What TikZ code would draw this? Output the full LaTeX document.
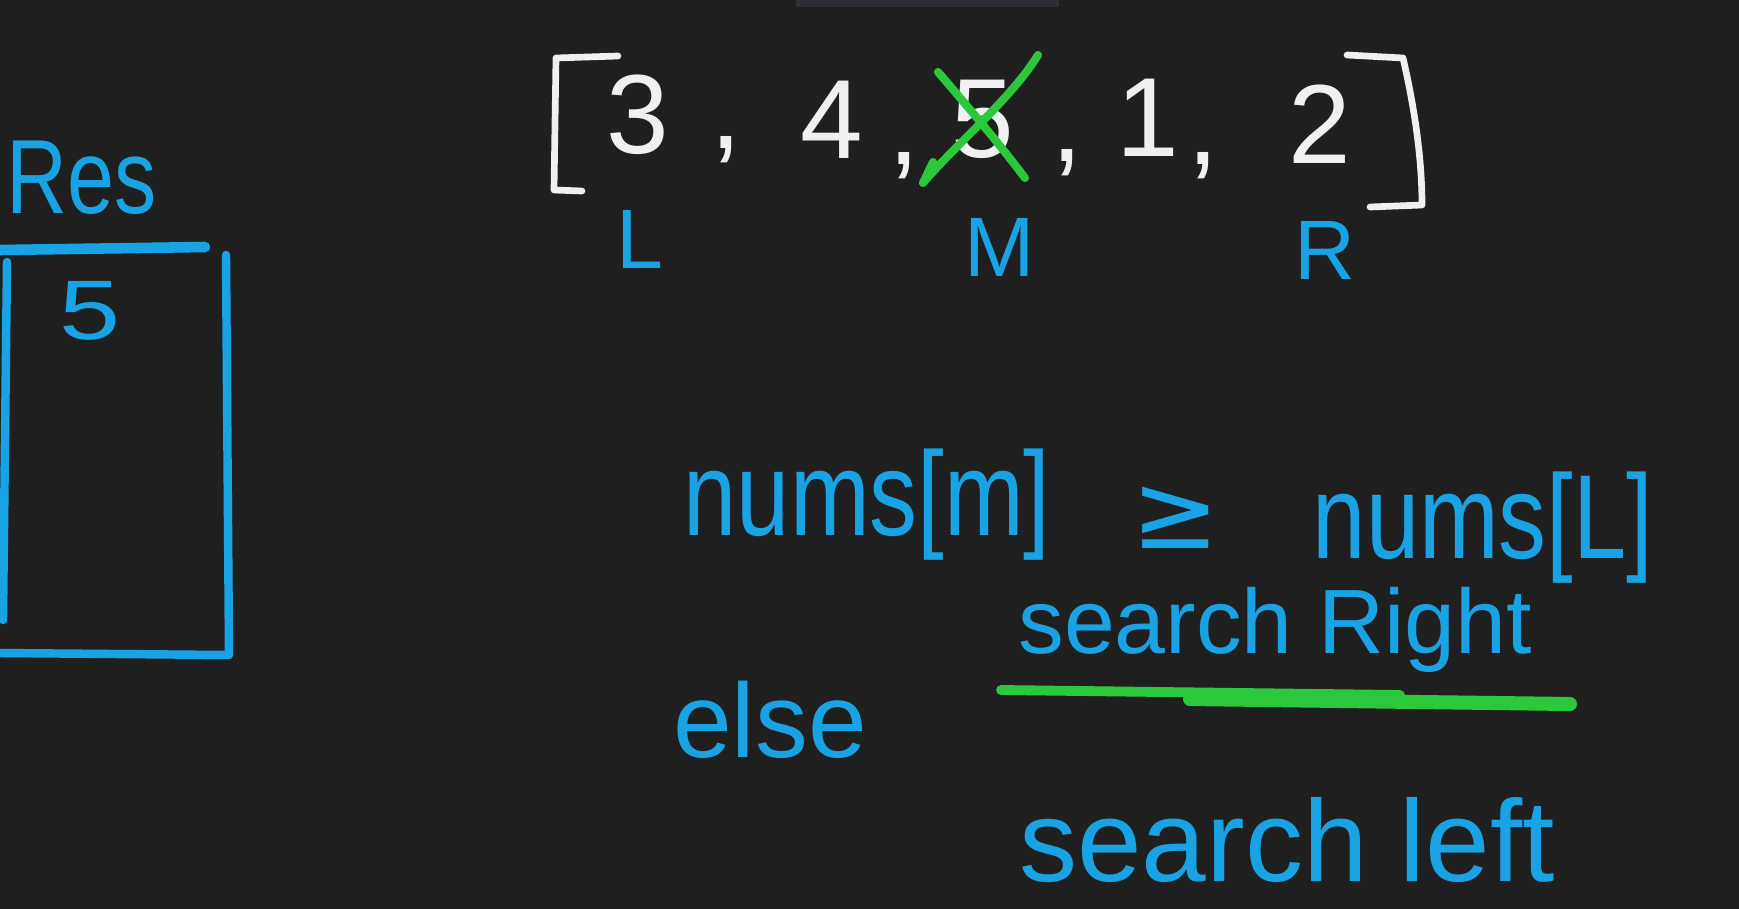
\documentclass[tikz,border=0pt]{standalone}
\usepackage{fontspec}
\setmainfont{Liberation Sans}
\newfontfamily\symfont{DejaVu Sans}
\definecolor{bg}{RGB}{31,31,31}
\definecolor{topbar}{RGB}{44,47,52}
\definecolor{hblue}{RGB}{26,163,228}
\definecolor{hgreen}{RGB}{44,200,60}
\definecolor{hwhite}{RGB}{240,240,240}
\begin{document}
\begin{tikzpicture}[x=0.01cm,y=-0.01cm,
  wtxt/.style={text=hwhite, inner sep=0pt, font=\fontsize{32}{38}\selectfont},
  btxt/.style={text=hblue, inner sep=0pt},
  wstroke/.style={draw=hwhite, line width=1.9pt, line cap=round, line join=round},
  bstroke/.style={draw=hblue, line width=2.4pt, line cap=round, line join=round},
  gstroke/.style={draw=hgreen, line width=2.3pt, line cap=round, line join=round}]
\fill[bg] (0,0) rectangle (1739,909);
\useasboundingbox (0,0) rectangle (1739,909);
\fill[topbar] (796,0) rectangle (1059,7);

% array brackets
\draw[wstroke] (618,56) -- (556,58) -- (554,190) -- (582,191);
\draw[wstroke] (1347,55) -- (1403,58) .. controls (1415,110) and (1422,160) .. (1422,205) -- (1370,207);

% array values
\node[wtxt] (v3) at (638,115) {3};
\node[wtxt] (c1) at (726,150) {,};
\node[wtxt] (v4) at (832,120) {4};
\node[wtxt] (c2) at (904,166) {,};
\node[wtxt] (v5) at (983,119) {5};
\node[wtxt] (c3) at (1067,163) {,};
\node[wtxt] (v1) at (1148,118) {1};
\node[wtxt] (c4) at (1203,166) {,};
\node[wtxt] (v2) at (1320,124) {2};

% crossing out
\draw[gstroke] (938,72) .. controls (975,115) and (1000,145) .. (1025,178);
\draw[gstroke] (1038,55) .. controls (1010,100) and (960,140) .. (923,183) -- (933,162);

% pointers
\node[btxt, font=\fontsize{24}{28}\selectfont] (pL) at (640,239) {L};
\node[btxt, font=\fontsize{24}{28}\selectfont] (pM) at (1000,247) {M};
\node[btxt, font=\fontsize{24}{28}\selectfont] (pR) at (1325,250) {R};

% result box
\node[btxt, font=\fontsize{30}{36}\selectfont] (res) at (82,178) {\scalebox{0.8}[1]{Res}};
\draw[draw=hblue, line width=3pt, line cap=round] (0,250) -- (205,247);
\draw[bstroke] (226,255) -- (229,655) -- (0,653);
\draw[bstroke] (7,262) -- (3,620);
\node[btxt, font=\fontsize{24}{28}\selectfont] (r5) at (90,311) {\scalebox{1.3}[1]{5}};

% condition
\node[btxt, font=\fontsize{34}{40}\selectfont] (lhs) at (867,505) {\scalebox{0.8}[1]{nums[m]}};
\node[btxt, font=\fontsize{30}{36}\selectfont\symfont] (ge) at (1176,518) {≥};
\node[btxt, font=\fontsize{34}{40}\selectfont] (rhs) at (1483,528) {\scalebox{0.8}[1]{nums[L]}};

\node[btxt, font=\fontsize{26}{30}\selectfont] (sr) at (1275,630) {search Right};
\draw[hgreen, line width=2.8pt, line cap=round] (1001,690) -- (1400,695);
\draw[hgreen, line width=4pt, line cap=round] (1190,699) -- (1570,704);

\node[btxt, font=\fontsize{30}{36}\selectfont] (els) at (770,720) {else};
\node[btxt, font=\fontsize{33}{40}\selectfont] (sl) at (1287,840) {search left};
\end{tikzpicture}
\end{document}
